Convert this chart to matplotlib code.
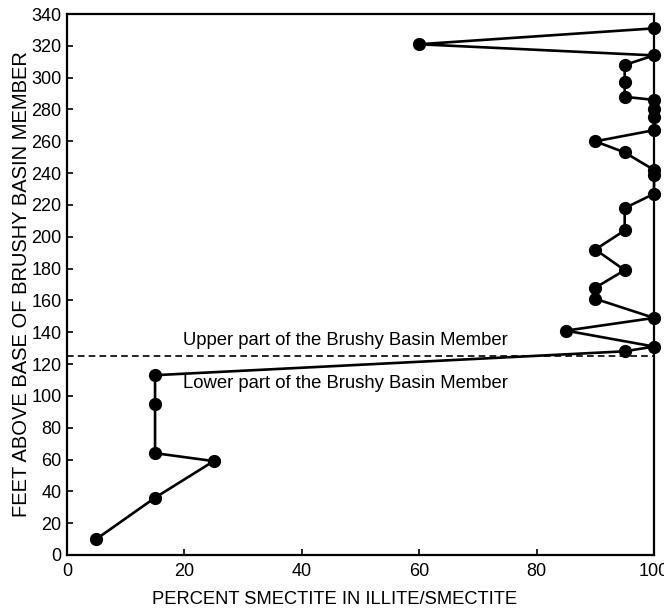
import matplotlib
matplotlib.use("Agg")
import matplotlib.pyplot as plt
from matplotlib import font_manager
import numpy as np

plt.rcParams['font.family'] = ['Liberation Sans', 'DejaVu Sans']
names = {f.name for f in font_manager.fontManager.ttflist}
narrow = 'Liberation Sans Narrow' if 'Liberation Sans Narrow' in names else 'Liberation Sans'

smectite = [5, 15, 25, 15, 15, 15, 95, 100, 85, 100, 90, 90, 95, 90, 95, 95,
            100, 100, 100, 95, 90, 100, 100, 100, 100, 95, 95, 95, 100, 60, 100]
feet = [10, 36, 59, 64, 95, 113, 128, 131, 141, 149, 161, 168, 179, 192, 204, 218,
        227, 239, 242, 253, 260, 267, 275, 280, 286, 288, 297, 308, 314, 321, 331]
boundary = 125
xticks = [0, 20, 40, 60, 80, 100]
yticks = list(range(0, 341, 20))

fig = plt.figure(figsize=(6.64, 6.10), dpi=100)
ax = fig.add_axes([0.1009, 0.0902, 0.8841, 0.8868])

ax.plot(smectite, feet, '-o', color='black', lw=1.9, markersize=8.5, clip_on=False, zorder=3)
ax.axhline(boundary, color='black', lw=1.2, ls=(0, (4, 2.5)))

ax.text(19.8, 134.5, 'Upper part of the Brushy Basin Member', fontsize=13.3, va='center', ha='left')
ax.text(19.8, 107.5, 'Lower part of the Brushy Basin Member', fontsize=13.3, va='center', ha='left')

ax.set_xlim(0, 100)
ax.set_ylim(0, 340)
ax.set_xticks(xticks)
ax.set_yticks(yticks)
ax.tick_params(direction='in', length=4, width=1.2, labelsize=13, pad=4)
ax.tick_params(axis='x', pad=6)
for lab in ax.get_xticklabels() + ax.get_yticklabels():
    lab.set_fontfamily(narrow)
for s in ax.spines.values():
    s.set_linewidth(1.6)

ax.set_xlabel('PERCENT SMECTITE IN ILLITE/SMECTITE', fontsize=13.2)
ax.set_ylabel('FEET ABOVE BASE OF BRUSHY BASIN MEMBER', fontsize=14.5)
ax.xaxis.set_label_coords(0.4566, -0.083)
ax.yaxis.set_label_coords(-0.077, 0.5)
ax.xaxis.label.set_va('center')
ax.yaxis.label.set_va('center')

fig.savefig('out.png', dpi=100)
